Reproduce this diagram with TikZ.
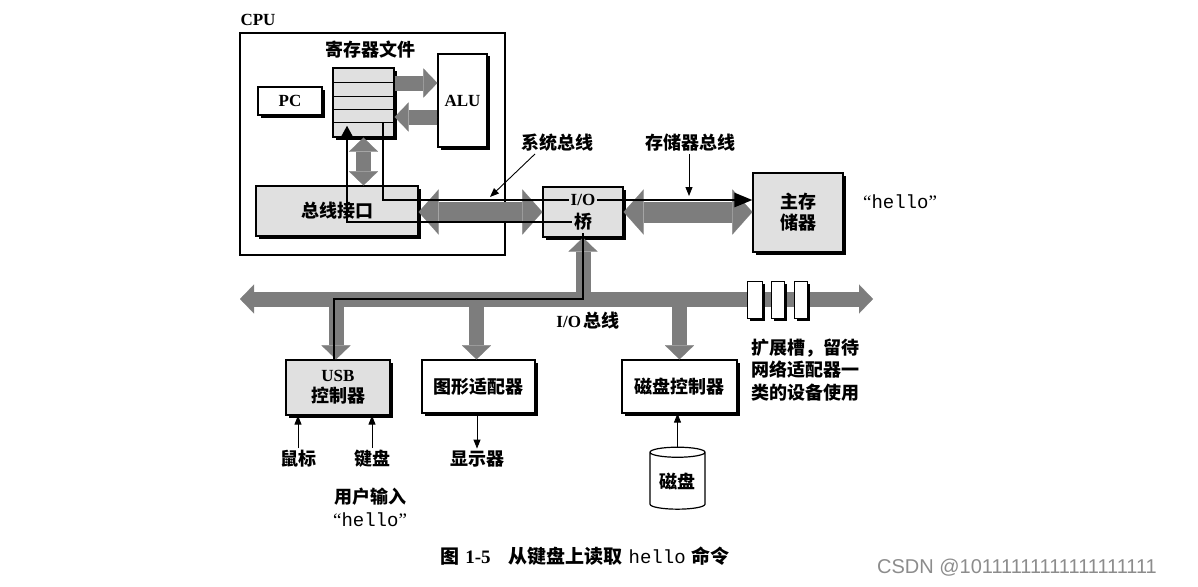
\documentclass[tikz,border=0pt]{standalone}
\usepackage{fontspec}
\setmainfont{Liberation Serif}
\setmonofont{Liberation Mono}
\newfontfamily\cjk{Noto Sans CJK SC}
\newfontfamily\wmfont{Liberation Sans}
\usetikzlibrary{arrows.meta, positioning, shapes.geometric, shadows}
\definecolor{busgray}{RGB}{125,125,125}
\definecolor{boxgray}{RGB}{224,224,224}
\newcommand\zhfont{\cjk\bfseries\fontsize{18}{21}\selectfont}
\newcommand\enfont{\rmfamily\bfseries\fontsize{17}{21}\selectfont}

\begin{document}
\begin{tikzpicture}[
    x=1pt, y=-1pt,
    unit/.style      = {rectangle, draw, line width=1.2pt, inner sep=0pt,
                        align=center, font=\zhfont,
                        drop shadow={shadow xshift=2.5pt, shadow yshift=-2.5pt,
                                     fill=black, opacity=1}},
    litunit/.style   = {unit, fill=boxgray},
    plainunit/.style = {unit, fill=white},
    fattip/.tip      = {Triangle[width=29pt, length=14pt, line width=0.1pt]},
    bustip/.tip      = {Triangle[width=45pt, length=20pt, line width=0.1pt]},
    fat/.style       = {line width=15pt, draw=busgray, fill=busgray},
    fatbus/.style    = {line width=21pt, draw=busgray, fill=busgray, bustip-bustip},
    sysline/.style   = {line width=2.6pt, line join=miter},
    ptr/.style       = {-{Triangle[length=9pt, width=7pt]}, line width=0.9pt},
    label/.style     = {font=\zhfont, inner sep=2pt},
]
\useasboundingbox (0,0) rectangle (1198,586);

% CPU and its parts
\node[draw, line width=1.4pt, minimum width=265pt, minimum height=222pt,
      inner sep=0pt] (cpu) at (372.5,144) {};
\node[font=\enfont] (cpulbl) at (258,20) {CPU};

\node[litunit, minimum width=61pt, minimum height=69pt] (regfile) at (363.5,102.5) {};
\foreach \y in {82,96,109,122}
  \draw[line width=0.8pt] (regfile.west |- 0,\y) -- (regfile.east |- 0,\y);
\node[label] (reglbl) at (370,50) {寄存器文件};

\node[plainunit, minimum width=64pt, minimum height=28pt, font=\enfont] (pc) at (290,101) {PC};
\node[plainunit, minimum width=49pt, minimum height=93pt, font=\enfont] (alu) at (462.5,100.5) {ALU};
\node[litunit, minimum width=162pt, minimum height=50pt] (busif) at (337,211) {总线接口};

% bridge, memory
\node[litunit, minimum width=80pt, minimum height=50pt] (bridge) at (583,212) {};
\node[font=\enfont, inner sep=2pt] (iolbl) at (583,200) {I/O};
\node[label] (qiao) at (583,222) {桥};
\node[litunit, minimum width=90pt, minimum height=79pt] (mem) at (798,212.5) {主存\\储器};
\node[font=\fontsize{19}{21}\selectfont] (memhello) at (900,202) {“\texttt{hello}”};

% devices
\node[litunit, minimum width=104pt, minimum height=55pt] (usb) at (338,387.5)
     {{\enfont USB}\\控制器};
\node[plainunit, minimum width=113pt, minimum height=53pt] (gfx) at (478.5,386.5) {图形适配器};
\node[plainunit, minimum width=115pt, minimum height=53pt] (diskctl) at (679.5,386.5) {磁盘控制器};
\node[cylinder, shape border rotate=90, aspect=0.28, draw, line width=1.2pt,
      fill=white, minimum width=55pt, minimum height=62pt, inner sep=0pt,
      font=\zhfont] (disk) at (677.5,481) {磁盘};

% buses
\draw[fat, fattip-fattip] (regfile.south) -- (regfile.south |- busif.north);
\draw[fat, -fattip] (regfile.east |- 0,83)  -- (alu.west |- 0,83);
\draw[fat, -fattip] (alu.west |- 0,117) -- (regfile.east |- 0,117);
\draw[fatbus] (busif.east |- bridge.west) -- (bridge.west);
\draw[fatbus] (bridge.east) -- (mem.west |- bridge.east);

\coordinate (iobusL) at (240,299);
\coordinate (iobusR) at (873,299);
\draw[fat, fattip-fattip] (iobusL) -- (iobusR);
\draw[fat, -fattip] (bridge.south |- iobusL) -- (bridge.south);
\draw[fat, -fattip] ([xshift=-2pt]usb.north |- iobusL) -- ([xshift=-2pt]usb.north);
\draw[fat, -fattip] ([xshift=-2pt]gfx.north |- iobusL) -- ([xshift=-2pt]gfx.north);
\draw[fat, -fattip] (diskctl.north |- iobusL) -- (diskctl.north);

% expansion slots
\foreach \sx/\sw [count=\i] in {754.5/15, 777.5/13, 800.5/13}
  \node[plainunit, line width=1pt, minimum width=\sw pt, minimum height=37pt]
       (slot\i) at (\sx,299.5) {};

% path of "hello"
\draw[sysline] ([xshift=-4pt]usb.north) |- (qiao.south |- iobusL) -- (qiao.south);
\draw[sysline, -{Triangle[length=11pt, width=11pt]}]
     (qiao.west) -| ([xshift=-16.5pt, yshift=12pt]regfile.south);
\draw[sysline] ([xshift=19.5pt, yshift=15pt]regfile.south) |- (iolbl.west);
\draw[sysline, -{Triangle[length=18pt, width=14pt]}] (iolbl.east) -- (mem.west |- iolbl.east);

% labels
\node[label] (sysbuslbl) at (557,143) {系统总线};
\node[label] (membuslbl) at (690,143) {存储器总线};
\coordinate (sysbuspt) at (490,197);
\coordinate (membuspt) at (689,196);
\draw[ptr] ([xshift=-22pt]sysbuslbl.south) -- (sysbuspt);
\draw[ptr] (membuslbl.south -| membuspt) -- (membuspt);

\node[inner sep=0pt] (iobuslbl) at (588,321) {{\enfont I/O} {\zhfont 总线}};
\node[label, anchor=west, align=left, font=\cjk\bfseries\fontsize{18}{22.5}\selectfont]
     (slotlbl) at (749,370) {扩展槽，留待\\网络适配器一\\类的设备使用};

\node[label] (mouse)   at (298,459) {鼠标};
\node[label] (kbd)     at (372,459) {键盘};
\node[label] (display) at (477,459) {显示器};
\draw[ptr] (mouse.north) -- (usb.south -| mouse.north);
\draw[ptr] (kbd.north) -- (usb.south -| kbd.north);
\draw[ptr] (gfx.south -| display.north) -- (display.north);
\draw[ptr, {Triangle[length=9pt, width=7pt]}-] (diskctl.south -| disk.north) -- (disk.north);

\node[label] (userin) at (370,497) {用户输入};
\node[font=\fontsize{19}{21}\selectfont] (userhello) at (370,520) {“\texttt{hello}”};

\node (caption) at (585,556) {{\cjk\bfseries\fontsize{19}{21}\selectfont 图}\hspace{6pt}%
      {\rmfamily\bfseries\fontsize{19}{21}\selectfont 1-5}\hspace{18pt}%
      {\cjk\bfseries\fontsize{19}{21}\selectfont 从键盘上读取}\hspace{6pt}%
      {\fontsize{19}{21}\selectfont\ttfamily hello}\hspace{6pt}%
      {\cjk\bfseries\fontsize{19}{21}\selectfont 命令}};
\node[font=\wmfont\fontsize{20}{22}\selectfont, text=black!45] (mark) at (1017,568)
     {CSDN @10111111111111111111};
\end{tikzpicture}
\end{document}
